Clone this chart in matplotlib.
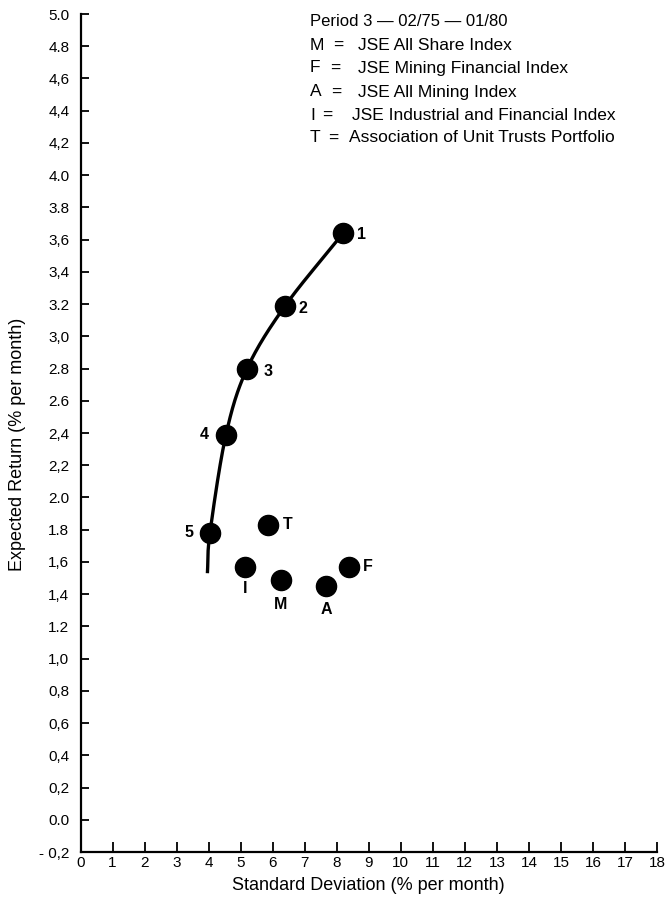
import numpy as np
import matplotlib
matplotlib.use("Agg")
import matplotlib.pyplot as plt

plt.rcParams['font.family'] = ['Liberation Sans', 'DejaVu Sans']

# ---- data ----
frontier_labels = ["1", "2", "3", "4", "5"]
frontier_sd = [8.20, 6.39, 5.20, 4.54, 4.04]
frontier_ret = [3.64, 3.19, 2.80, 2.39, 1.78]
curve_end_sd = 3.96
curve_end_ret = 1.53

index_labels = ["T", "I", "M", "A", "F"]
index_sd = [5.86, 5.14, 6.26, 7.66, 8.39]
index_ret = [1.83, 1.57, 1.49, 1.45, 1.57]

x_ticks = list(range(0, 19))
y_ticks = [5.0, 4.8, 4.6, 4.4, 4.2, 4.0, 3.8, 3.6, 3.4, 3.2, 3.0, 2.8, 2.6,
           2.4, 2.2, 2.0, 1.8, 1.6, 1.4, 1.2, 1.0, 0.8, 0.6, 0.4, 0.2, 0.0, -0.2]
y_tick_labels = ["5.0", "4.8", "4,6", "4,4", "4,2", "4.0", "3.8", "3,6", "3,4",
                 "3.2", "3,0", "2.8", "2.6", "2,4", "2,2", "2.0", "1.8", "1,6",
                 "1,4", "1.2", "1,0", "0,8", "0,6", "0,4", "0,2", "0.0", "- 0,2"]

legend_title = "Period 3 \u2014 02/75 \u2014 01/80"
legend_keys = ["M", "F", "A", "I", "T"]
legend_texts = ["JSE All Share Index", "JSE Mining Financial Index",
                "JSE All Mining Index", "JSE Industrial and Financial Index",
                "Association of Unit Trusts Portfolio"]

# ---- figure ----
W, H = 666, 910
fig = plt.figure(figsize=(W / 100, H / 100), dpi=100)
ax = fig.add_axes([80.6 / W, 1 - 852 / H, (657 - 80.6) / W, (852 - 14) / H])
ax.set_xlim(0, 18)
ax.set_ylim(-0.2, 5.0)
for s in ["top", "right"]:
    ax.spines[s].set_visible(False)
for s in ["left", "bottom"]:
    ax.spines[s].set_linewidth(1.6)
    ax.spines[s].set_color("black")

ax.set_xticks(x_ticks)
ax.set_xticklabels([str(v) for v in x_ticks])
ax.set_yticks(y_ticks)
ax.set_yticklabels(y_tick_labels)
ax.tick_params(axis="y", direction="in", length=6, width=1.3, pad=8, labelsize=11)
ax.tick_params(axis="x", direction="in", length=7, width=1.3, pad=3, labelsize=11)

# smooth frontier curve (Catmull-Rom through the points)
px = np.array([curve_end_sd] + frontier_sd[::-1])
py = np.array([curve_end_ret] + frontier_ret[::-1])
P = np.column_stack([px, py])
P_ext = np.vstack([2 * P[0] - P[1], P, 2 * P[-1] - P[-2]])
pts = []
t = np.linspace(0, 1, 40)[:, None]
for i in range(1, len(P_ext) - 2):
    p0, p1, p2, p3 = P_ext[i - 1], P_ext[i], P_ext[i + 1], P_ext[i + 2]
    seg = 0.5 * ((2 * p1) + (-p0 + p2) * t + (2 * p0 - 5 * p1 + 4 * p2 - p3) * t ** 2
                 + (-p0 + 3 * p1 - 3 * p2 + p3) * t ** 3)
    pts.append(seg)
pts = np.vstack(pts)
ax.plot(pts[:, 0], pts[:, 1], color="black", lw=2.4, solid_capstyle="butt", zorder=2)

ax.plot(frontier_sd, frontier_ret, "o", color="black", markersize=14.5, zorder=3)
ax.plot(index_sd, index_ret, "o", color="black", markersize=14.5, zorder=3)

frontier_offsets = [(13, -1), (13, -2), (15, -2), (-16, 0), (-15, 0)]
for lab, x, y, off in zip(frontier_labels, frontier_sd, frontier_ret, frontier_offsets):
    ax.annotate(lab, (x, y), xytext=off, textcoords="offset points",
                ha="center", va="center", fontsize=11.5, fontweight="bold")

index_offsets = [(14, 0), (0, -16), (0, -18), (0, -17), (13, 0)]
for lab, x, y, off in zip(index_labels, index_sd, index_ret, index_offsets):
    ax.annotate(lab, (x, y), xytext=off, textcoords="offset points",
                ha="center", va="center", fontsize=11.5, fontweight="bold")

ax.set_xlabel("Standard Deviation (% per month)", fontsize=13, labelpad=5)
ax.set_ylabel("Expected Return (% per month)", fontsize=13, labelpad=8)
ax.yaxis.set_label_coords(-0.095, 0.486)

# legend block (figure pixel coordinates)
def fx(p):
    return p / W

def fy(p):
    return 1 - p / H

fig.text(fx(310), fy(22), legend_title, fontsize=12, va="center", ha="left")
row_y = [45, 68, 92, 115, 138]
eq_x = [338, 335, 336, 327, 333]
text_x = [358, 358, 358, 352, 349]
for k, txt, yy, ex, tx in zip(legend_keys, legend_texts, row_y, eq_x, text_x):
    fig.text(fx(310), fy(yy), k, fontsize=12.5, va="center", ha="left")
    fig.text(fx(ex), fy(yy), "=", fontsize=12.5, va="center", ha="center")
    fig.text(fx(tx), fy(yy), txt, fontsize=12.5, va="center", ha="left")

fig.savefig("out.png", dpi=100)
